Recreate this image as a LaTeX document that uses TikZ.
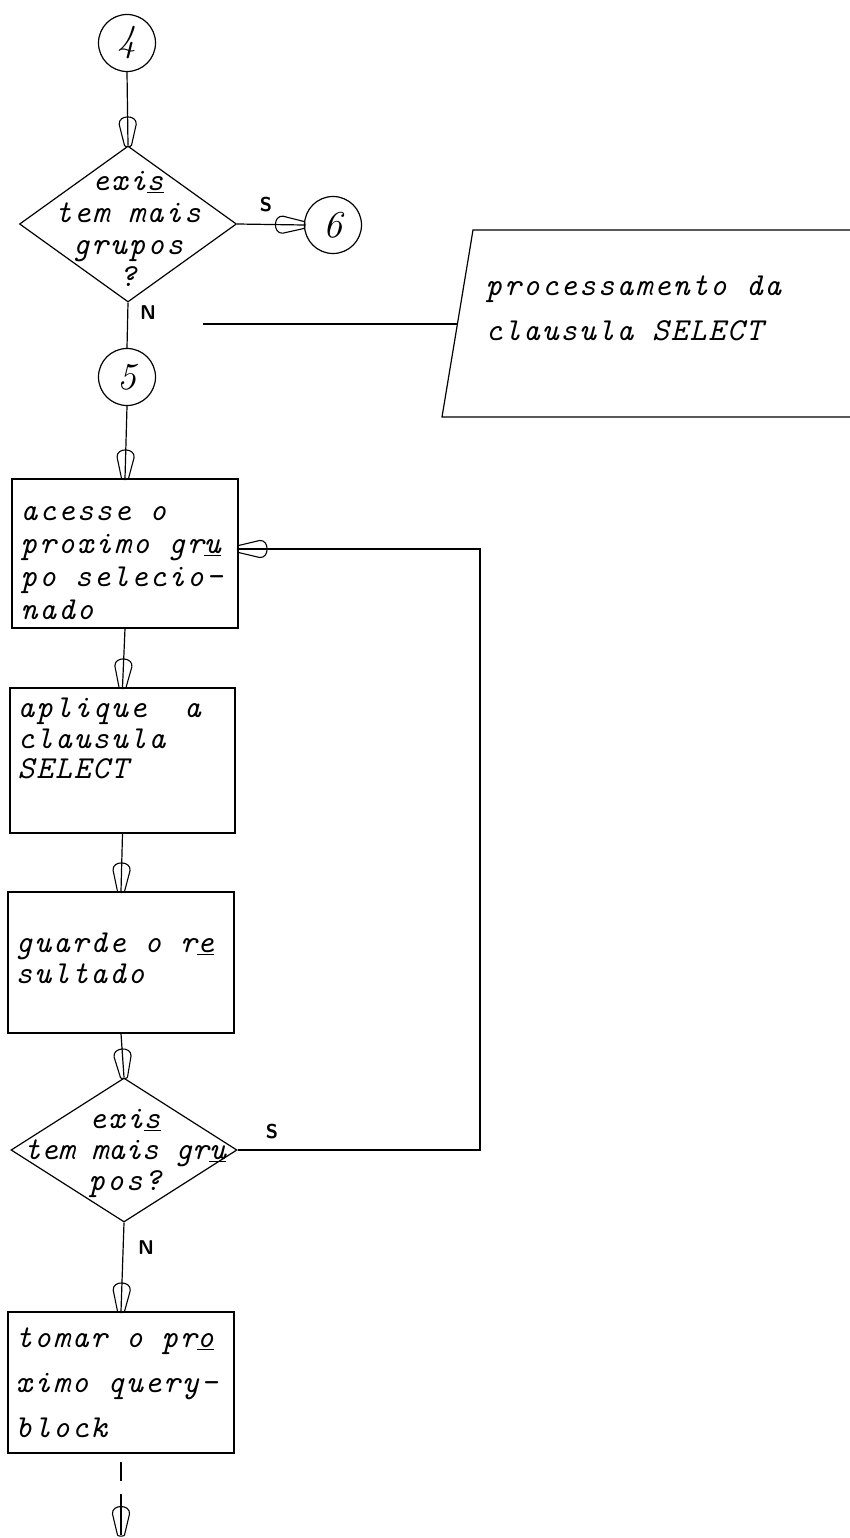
\documentclass[tikz,border=0pt]{standalone}
\usepackage{fontspec}
\newfontfamily\typ{lmmono10-italic}[Extension=.otf, LetterSpace=6]
\usetikzlibrary{shapes.geometric, decorations.markings}
\tikzset{
  every path/.style={line width=1.2pt},
  hd/.style={postaction={decorate, decoration={markings, mark=at position 1 with {
     \draw[line width=1.1pt] (0,3.5) -- (-21,8.5) .. controls (-31,9.5) and (-31,-9.5) .. (-21,-8.5) -- (0,-3.5) .. controls (1.5,-3.5) and (1.5,3.5) .. (0,3.5);}}}},
  circ/.style={draw, circle, minimum size=57pt, inner sep=0pt, font=\fontsize{38}{38}\selectfont\itshape},
  dia/.style={draw, diamond, inner sep=0pt},
  boxx/.style={draw, rectangle, inner sep=0pt},
  txt/.style={font=\typ\fontsize{32}{33}\selectfont, inner sep=0pt, align=left},
  lab/.style={font=\sffamily\bfseries\fontsize{20}{20}\selectfont, inner sep=0pt}
}
\begin{document}
\begin{tikzpicture}[x=1pt, y=-1pt]
\useasboundingbox (0,0) rectangle (849,1538);
% top part
\node[circ] (c4) at (127,43) {4};
\node[dia, minimum width=217pt, minimum height=156pt] (d1) at (128,224) {};
\node[txt, align=center, anchor=north] (d1t) at (128,167) {\strut exi\underline{s}\\[-1pt]tem mais\\[-1pt]grupos\\[-1pt]?};
\node[circ] (c6) at (333,225) {6};
\node[lab] (s1) at (266,205) {S};
\node[lab] (n1) at (148,313) {N};
\node[circ] (c5) at (127,377) {5};
% annotation
\coordinate (a1) at (852,230);
\coordinate (a2) at (473,230);
\coordinate (a3) at (442,417);
\coordinate (a4) at (852,417);
\coordinate (st) at (203,324);
\coordinate (an) at (457.4,324);
\draw (a1) -- (a2) -- (a3) -- (a4);
\draw (st) -- (an);
\node[txt, anchor=north west] (att) at (485,272) {\strut processamento da\\[12pt]clausula SELECT};
% boxes
\node[boxx, minimum width=226pt, minimum height=149pt] (b1) at (125,553.5) {};
\node[txt, anchor=north west] (b1t) at (20,497) {\strut acesse o\\proximo gr\underline{u}\\po selecio-\\nado};
\node[boxx, minimum width=225pt, minimum height=145pt] (b2) at (122.5,760.5) {};
\node[txt, anchor=north west] (b2t) at (17,694) {\strut aplique\ \ a\\[-2.5pt]clausula\\[-2.5pt]SELECT};
\node[boxx, minimum width=226pt, minimum height=141pt] (b3) at (121,962.5) {};
\node[txt, anchor=north west] (b3t) at (15,929) {\strut guarde o r\underline{e}\\[-2pt]sultado};
\node[dia, minimum width=226pt, minimum height=144pt] (d2) at (124,1150) {};
\node[txt, align=center, anchor=north] (d2t) at (125,1105) {\strut exi\underline{s}\\[-2pt]{\addfontfeature{LetterSpace=0}tem mais gr\underline{u}}\\[-2pt]pos?};
\node[lab] (s2) at (272,1132) {S};
\node[lab] (n2) at (146,1248) {N};
\node[boxx, minimum width=226pt, minimum height=141pt] (b4) at (121,1382.5) {};
\node[txt, anchor=north west] (b4t) at (15,1324) {\strut tomar o pr\underline{o}\\[12pt]ximo query-\\[12pt]block};
\coordinate (fb) at (480,549);
\coordinate (t1) at (121,1462);
\coordinate (t2) at (121,1481);
\coordinate (t3) at (121,1494);
\coordinate (t4) at (121,1535);
% connectors
\draw[hd] (c4.south) -- (d1.north);
\draw[hd] (d1.east) -- (c6.west);
\draw (d1.south) -- (c5.north);
\draw[hd] (c5.south) -- (b1.north);
\draw[hd] (b1.south) -- (b2.north);
\draw[hd] (b2.south) -- (b3.north);
\draw[hd] (b3.south) -- (d2.north);
\draw[hd] (d2.east) -| (fb) -- (b1.east |- fb);
\draw[hd] (d2.south) -- (b4.north);
\draw (t1) -- (t2);
\draw[hd] (t3) -- (t4);
\end{tikzpicture}
\end{document}
